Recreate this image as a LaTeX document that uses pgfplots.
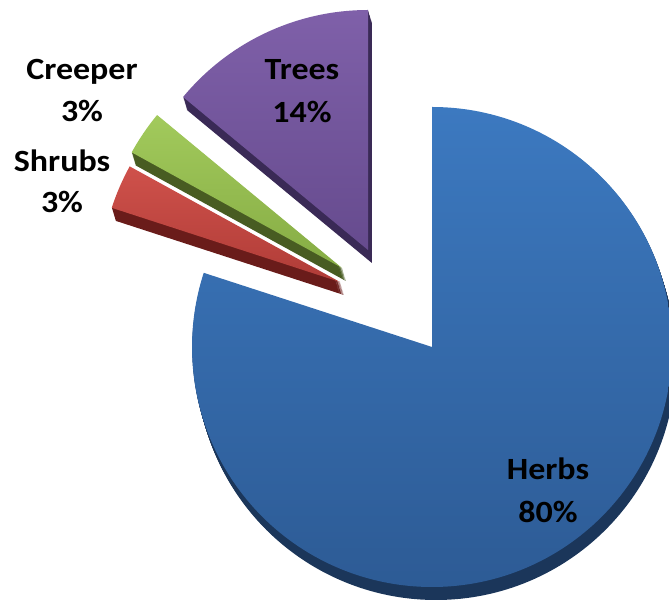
\documentclass[border=0pt]{standalone}
\usepackage{fontspec}
\setmainfont{Carlito}
\usepackage{graphicx}
\usepackage{pgfplots}
\usepackage{pgfplotstable}
\pgfplotsset{compat=1.18}
\pgfplotstableread{
label value cx cy
Herbs 80 432 261
Shrubs 3 340 326
Creeper 3 342 340
Trees 14 368 358
}\piedata
\definecolor{hTop}{HTML}{3C79C0}\definecolor{hBot}{HTML}{2D5B95}\definecolor{hSide}{HTML}{1B365A}
\definecolor{sTop}{HTML}{CF514B}\definecolor{sBot}{HTML}{B03C37}\definecolor{sSide}{HTML}{6A1C1A}
\definecolor{cTop}{HTML}{A2CA5C}\definecolor{cBot}{HTML}{86AC44}\definecolor{cSide}{HTML}{485C22}
\definecolor{tTop}{HTML}{7F60A9}\definecolor{tBot}{HTML}{664B8E}\definecolor{tSide}{HTML}{3A2A56}
\newcommand\getval[3]{\pgfplotstablegetelem{#1}{#2}\of\piedata\global\let#3\pgfplotsretval}
\getval{0}{value}\vH \getval{1}{value}\vS \getval{2}{value}\vC \getval{3}{value}\vT
\getval{0}{cx}\xH \getval{1}{cx}\xS \getval{2}{cx}\xC \getval{3}{cx}\xT
\getval{0}{cy}\yH \getval{1}{cy}\yS \getval{2}{cy}\yC \getval{3}{cy}\yT
\pgfmathsetmacro\aA{90}
\pgfmathsetmacro\aB{\aA-3.6*\vH}
\pgfmathsetmacro\aC{\aB-3.6*\vS}
\pgfmathsetmacro\aD{\aC-3.6*\vC}
\pgfmathsetmacro\aE{\aD-3.6*\vT}
\newcommand\lbl[1]{\scalebox{1.1}[1]{\fontsize{31}{37}\selectfont\bfseries #1}}
% #1 cx #2 cy #3 start #4 end #5 top #6 bottom #7 side
\newcommand\slice[7]{%
  \pgfplotsinvokeforeach{13,12,...,1}{%
    \fill[#7] (axis cs:#1+0.3*##1,#2-##1) -- ++(#3:240bp) arc[start angle=#3,end angle=#4,radius=240bp] -- cycle;}
  \shade[top color=#5,bottom color=#6] (axis cs:#1,#2) -- ++(#3:240bp) arc[start angle=#3,end angle=#4,radius=240bp] -- cycle;}
\begin{document}
\begin{tikzpicture}
\begin{axis}[scale only axis, width=669bp, height=608bp,
  xmin=0, xmax=669, ymin=0, ymax=608, axis lines=none, clip=true]
\addplot[draw=none] coordinates {(0,0) (669,608)};
\slice{\xT}{\yT}{\aD}{\aE}{tTop}{tBot}{tSide}
\slice{\xC}{\yC}{\aC}{\aD}{cTop}{cBot}{cSide}
\slice{\xS}{\yS}{\aB}{\aC}{sTop}{sBot}{sSide}
\slice{\xH}{\yH}{\aA}{\aB}{hTop}{hBot}{hSide}
\node[anchor=base,inner sep=0pt] at (axis cs:82,528) {\lbl{Creeper}};
\node[anchor=base,inner sep=0pt] at (axis cs:82,486) {\lbl{3\%}};
\node[anchor=base,inner sep=0pt] at (axis cs:62,436) {\lbl{Shrubs}};
\node[anchor=base,inner sep=0pt] at (axis cs:62,395) {\lbl{3\%}};
\node[anchor=base,inner sep=0pt] at (axis cs:302,528) {\lbl{Trees}};
\node[anchor=base,inner sep=0pt] at (axis cs:302,485) {\lbl{14\%}};
\node[anchor=base,inner sep=0pt] at (axis cs:548,128) {\lbl{Herbs}};
\node[anchor=base,inner sep=0pt] at (axis cs:548,85) {\lbl{80\%}};
\end{axis}
\end{tikzpicture}
\end{document}
